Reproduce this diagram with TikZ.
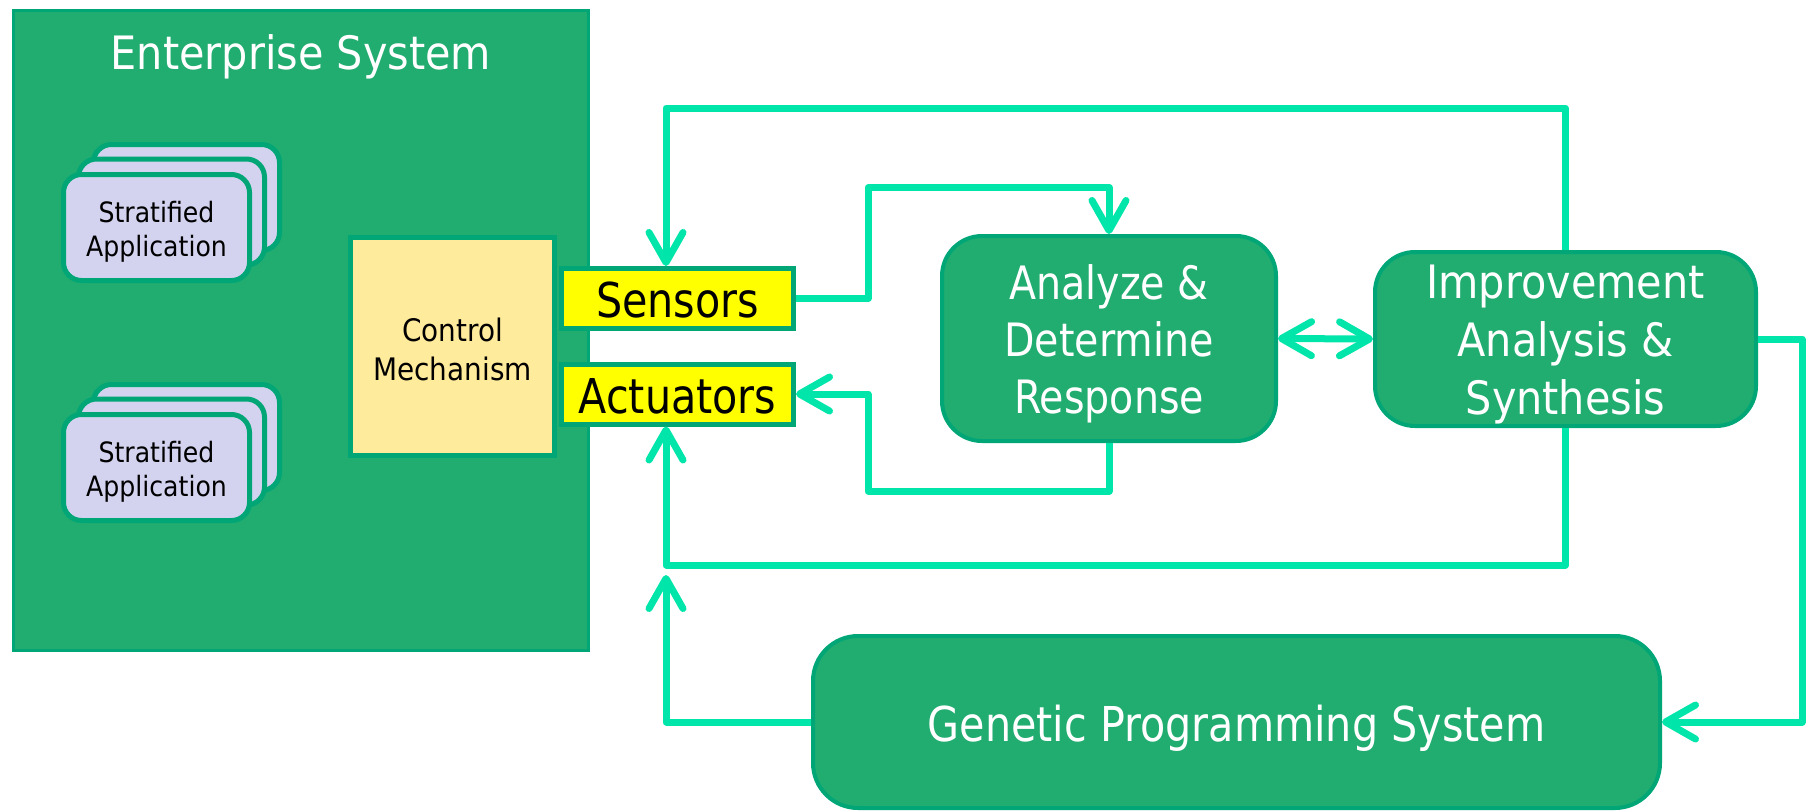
\documentclass[tikz,border=0pt]{standalone}
\usepackage{fontspec}
\setmainfont{DejaVu Sans}
\newfontfamily\tahfont[FakeStretch=0.9]{DejaVu Sans}
\newfontfamily\narrowfont[FakeStretch=0.86]{DejaVu Sans}
\usetikzlibrary{arrows.meta}

\definecolor{entgreen}{RGB}{33,172,112}
\definecolor{edgegreen}{RGB}{0,166,118}
\definecolor{cardfill}{RGB}{211,211,240}
\definecolor{ctrlfill}{RGB}{255,235,156}
\definecolor{signalfill}{RGB}{255,255,0}
\definecolor{flowcol}{RGB}{0,229,170}

% centred lines of text, drawn lower by #1 without changing the box size
\newcommand\droppedtext[2]{\raisebox{-#1}[\height][\depth]{\begin{tabular}{@{}c@{}}#2\end{tabular}}}
% a single word, drawn lower by #1 without changing the box size
\newcommand\droppedword[2]{\raisebox{-#1}[\height][\depth]{#2}}

\tikzset{
  barb/.tip={Straight Barb[length=30pt,width=34pt,round]},
  enterprise/.style={draw=edgegreen, line width=3pt, fill=entgreen,
    minimum width=575pt, minimum height=640pt, inner sep=0pt},
  card/.style={draw=edgegreen, line width=5pt, fill=cardfill,
    rounded corners=18pt, minimum width=186pt, minimum height=106pt,
    inner sep=0pt, align=center, font=\tahfont\fontsize{28}{34}\selectfont},
  ctrlbox/.style={draw=edgegreen, line width=5pt, fill=ctrlfill,
    minimum width=204pt, minimum height=218pt, inner sep=0pt,
    align=center, font=\tahfont\fontsize{31}{39}\selectfont},
  signalbox/.style={draw=edgegreen, line width=5pt, fill=signalfill,
    minimum width=232pt, minimum height=60pt, inner sep=0pt,
    font=\narrowfont\fontsize{48}{56}\selectfont},
  process/.style={draw=edgegreen, line width=4pt, fill=entgreen,
    rounded corners=40pt, inner sep=0pt, align=center, text=white},
  conn/.style={draw=flowcol, line width=7pt, line join=round}
}

\begin{document}
\begin{tikzpicture}[x=1pt,y=-1pt]
\useasboundingbox (0,0) rectangle (1815,811);

% enterprise system container
\node[enterprise] (ent) at (301,330.5) {};
\node[anchor=base, text=white, font=\tahfont\fontsize{46}{55}\selectfont]
  (enttitle) at (301,69) {Enterprise System};

% stacked application cards
\node[card] (appAback) at (186.5,197.5) {};
\node[card] (appAmid) at (171.5,212) {};
\node[card] (appA) at (156.5,227.5) {\droppedtext{5pt}{Stratified\\Application}};
\node[card] (appBback) at (186.5,437.5) {};
\node[card] (appBmid) at (171.5,452) {};
\node[card] (appB) at (156.5,467.5) {\droppedtext{5pt}{Stratified\\Application}};

% control mechanism with sensors and actuators
\node[ctrlbox] (ctrl) at (452.5,346.5) {\droppedtext{7pt}{Control\\Mechanism}};
\node[signalbox] (sens) at (677.5,298.5) {\droppedword{2pt}{Sensors}};
\node[signalbox] (act) at (677.5,394) {\droppedword{2pt}{Actuators}};

% processing stages
\node[process, minimum width=334pt, minimum height=205pt,
  font=\narrowfont\fontsize{46}{57}\selectfont]
  (ana) at (1109,338.5) {\droppedtext{7pt}{Analyze \&\\Determine\\Response}};
\node[process, minimum width=381pt, minimum height=174pt,
  font=\tahfont\fontsize{46}{58}\selectfont]
  (impr) at (1565.5,339) {\droppedtext{6pt}{Improvement\\Analysis \&\\Synthesis}};
\node[process, rounded corners=45pt, minimum width=847pt, minimum height=172pt,
  font=\narrowfont\fontsize{48}{56}\selectfont]
  (gp) at (1236.5,722) {\droppedtext{8pt}{Genetic Programming System}};

% routing guides
\coordinate (busX) at (666,0);
\coordinate (jogX) at (868,0);
\coordinate (rightX) at (1802,0);
\coordinate (topY) at (0,108);
\coordinate (upperY) at (0,187.5);
\coordinate (lowerY) at (0,491);
\coordinate (botY) at (0,565);
\coordinate (gpTip) at (666,575);

% connectors
\draw[conn,-barb] (impr.north) -- (impr.north |- topY) -- (busX |- topY)
  -- (busX |- sens.north);
\draw[conn,-barb] (sens.east) -- (jogX |- sens.east) -- (jogX |- upperY)
  -- (ana.north |- upperY) -- (ana.north);
\draw[conn,-barb] (ana.south) -- (ana.south |- lowerY) -- (jogX |- lowerY)
  -- (jogX |- act.east) -- (act.east);
\draw[conn,barb-barb] (ana.east) -- (impr.west);
\draw[conn,-barb] (impr.south) -- (impr.south |- botY) -- (busX |- botY)
  -- (busX |- act.south);
\draw[conn,-barb] (impr.east) -- (rightX |- impr.east) -- (rightX |- gp.east)
  -- (gp.east);
\draw[conn,-barb] (gp.west) -- (busX |- gp.west) -- (gpTip);
\end{tikzpicture}
\end{document}
